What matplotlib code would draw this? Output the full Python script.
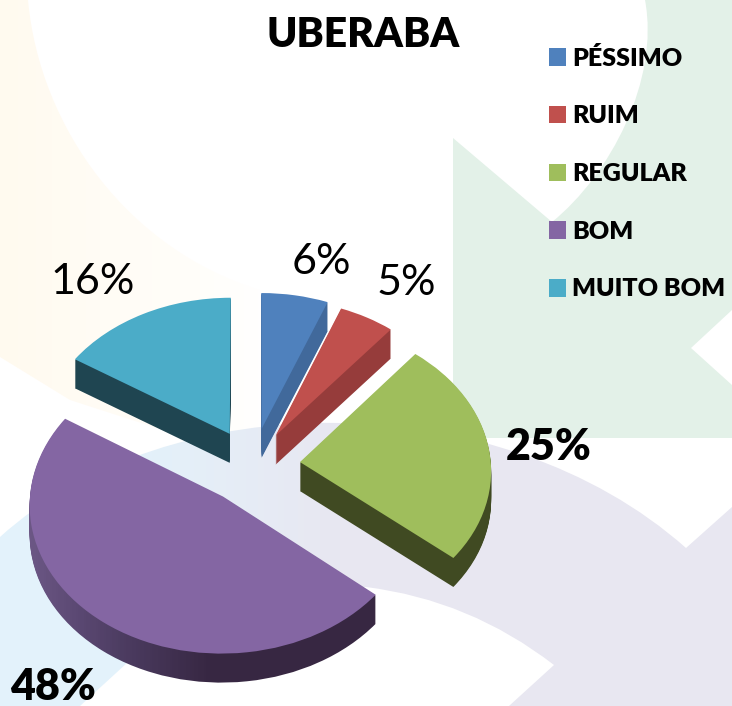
import numpy as np
import matplotlib
matplotlib.use("Agg")
import matplotlib.pyplot as plt
from matplotlib.colors import LinearSegmentedColormap
from matplotlib.patches import Patch, PathPatch
from matplotlib.path import Path
from matplotlib.transforms import Transform

plt.rcParams['font.family'] = ['Lato', 'DejaVu Sans']

title = "UBERABA"
categories = ["PÉSSIMO", "RUIM", "REGULAR", "BOM", "MUITO BOM"]
values = [6, 5, 25, 48, 16]
colors = ["#4f81bd", "#c0504d", "#9fbe5c", "#8466a3", "#4bacc8"]
wall_colors = ["#41699b", "#963c3b", "#404a22", "#372742", "#1f4551"]

# where the percent labels sit, in image pixels
label_pos = [(321, 262), (406, 283), (549, 447), (53, 687), (93, 282)]
label_weight = ["normal", "normal", "heavy", "heavy", "normal"]

cx, cy = 252.5, 465.5
rx, ry = 191, 146
persp = 0.05
depth = 29
W, H = 732, 706


class Tilt(Transform):
    # turns the flat unit pie into the tilted one, in image pixels
    input_dims = 2
    output_dims = 2

    def __init__(self, drop=0):
        super().__init__()
        self.drop = drop

    def transform_non_affine(self, xy):
        xy = np.asarray(xy, dtype=float)
        f = 1 / (1 + persp * xy[:, 1])
        return np.column_stack([cx + rx * xy[:, 0] * f,
                                cy - ry * xy[:, 1] * f + self.drop])


fig = plt.figure(figsize=(W / 100, H / 100), dpi=100)
ax = fig.add_axes([0, 0, 1, 1])


def shape(steps):
    # steps: list of (code, points)
    verts, codes = [], []
    for code, pts in steps:
        verts += pts
        codes += [code] * len(pts)
    verts.append(verts[0])
    codes.append(Path.CLOSEPOLY)
    return PathPatch(Path(verts, codes), fc="none", ec="none")


def gradient(patch, stops, z=1):
    cmap = LinearSegmentedColormap.from_list("g", stops)
    g = np.linspace(0, 1, 366)[None, :]
    im = ax.imshow(g, cmap=cmap, extent=(0, W, H, 0), aspect="auto", zorder=z)
    if patch.axes is None:
        ax.add_patch(patch)
    im.set_clip_path(patch)
    return im


# background shapes
cream = shape([(Path.MOVETO, [(0, 0)]),
               (Path.LINETO, [(28, 0)]),
               (Path.CURVE4, [(40, 130), (130, 250), (260, 290)]),
               (Path.LINETO, [(262, 462), (70, 400), (0, 357)])])
gradient(cream, [(0, "#fffaef"), (100 / W, "#fffcf5"), (200 / W, "#fffefa"),
                 (270 / W, "#ffffff"), (1, "#ffffff")])

band = shape([(Path.MOVETO, [(0, 537)]),
              (Path.CURVE4, [(170, 383), (500, 383), (686, 548)]),
              (Path.LINETO, [(732, 507), (732, 706), (509, 706), (554, 665)]),
              (Path.CURVE3, [(470, 600), (366, 587)]),
              (Path.LINETO, [(250, 585), (170, 625), (127, 663), (80, 706), (0, 706)])])
gradient(band, [(0, "#e3f2fb"), (130 / W, "#e3f2fb"), (340 / W, "#e8e7f1"), (1, "#e8e7f1")])

green_bg = shape([(Path.MOVETO, [(453, 138)]),
                  (Path.LINETO, [(552, 222)]),
                  (Path.CURVE4, [(610, 175), (660, 80), (645, 0)]),
                  (Path.LINETO, [(732, 0), (732, 310), (691, 348), (732, 385),
                                 (732, 438), (453, 438)])])
green_bg.set(facecolor="#e3f1e8", zorder=1)
ax.add_patch(green_bg)

# sides of the slices, stacked from the bottom up
explode = [0.26, 0.24, 0.25, 0.26, 0.25]
purple_side = [(0, "#75608f"), (70 / W, "#5d4a75"), (130 / W, "#4a3a5e"),
               (210 / W, "#372742"), (1, "#372742")]
for d in range(depth, 0, -1):
    wedges, _ = ax.pie(values, startangle=90, counterclock=False, explode=explode,
                       colors=wall_colors, frame=False)
    for w in wedges:
        w.set_transform(Tilt(d) + ax.transData)
        w.set_zorder(2)
    # purple side goes lighter to the left
    wedges[3].set_facecolor("none")
    gradient(wedges[3], purple_side, z=2)

# top faces
wedges, _ = ax.pie(values, startangle=90, counterclock=False, explode=explode,
                   colors=colors, frame=False)
for w in wedges:
    w.set_transform(Tilt() + ax.transData)
    w.set_zorder(3)

ax.set_aspect("auto")
ax.set_xlim(0, W)
ax.set_ylim(H, 0)
ax.axis("off")

ax.text(363.5, 35, title, fontsize=29.3, fontweight="heavy", ha="center", va="center", zorder=5)

for v, pos, weight in zip(values, label_pos, label_weight):
    ax.text(pos[0], pos[1], f"{v}%", fontsize=31, fontweight=weight,
            ha="center", va="center", zorder=5)

handles = [Patch(facecolor=c, edgecolor="none") for c in colors]
ax.legend(handles, categories, loc="upper left", bbox_to_anchor=(536, 34),
          bbox_transform=ax.transData, frameon=False,
          prop={"size": 18, "weight": "heavy"}, handlelength=0.7, handleheight=0.7,
          handletextpad=0.26, labelspacing=1.43, borderpad=0.5, borderaxespad=0)

fig.savefig("out.png", dpi=100)
